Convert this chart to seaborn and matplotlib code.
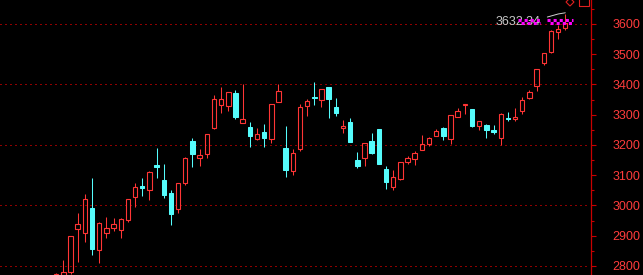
import numpy as np
import pandas as pd
import matplotlib
matplotlib.use("Agg")
import matplotlib.pyplot as plt
import seaborn as sns
from matplotlib.patches import Rectangle, Polygon

# ---- data ----
opens = [2750, 2768, 2781, 2923, 2908, 2992, 2854, 2910, 2927, 2920,
         2953, 3029, 3064, 3052, 3133, 3084, 3041, 2989, 3075, 3213,
         3158, 3171, 3257, 3331, 3328, 3372, 3274, 3259, 3221, 3243,
         3221, 3343, 3190, 3113, 3188, 3328, 3358, 3348, 3391, 3326,
         3257, 3276, 3150, 3156, 3213, 3253, 3121, 3062, 3088, 3145,
         3155, 3184, 3204, 3231, 3256, 3221, 3294, 3331, 3319, 3264,
         3266, 3250, 3224, 3289, 3286, 3313, 3355, 3395, 3470, 3507,
         3575, 3586]
highs = [2776, 2820, 2900, 2976, 3038, 3091, 2945, 2962, 2959, 2960,
         3022, 3074, 3091, 3113, 3191, 3137, 3050, 3075, 3161, 3223,
         3187, 3235, 3365, 3392, 3374, 3382, 3402, 3276, 3255, 3269,
         3336, 3401, 3263, 3187, 3336, 3351, 3407, 3386, 3391, 3355,
         3283, 3289, 3177, 3206, 3241, 3253, 3131, 3117, 3145, 3164,
         3179, 3233, 3227, 3252, 3259, 3300, 3322, 3336, 3320, 3279,
         3268, 3266, 3305, 3309, 3322, 3359, 3382, 3451, 3505, 3580,
         3597, 3632]
lows = [2740, 2760, 2773, 2814, 2880, 2837, 2811, 2894, 2916, 2894,
        2946, 2996, 3032, 3019, 3092, 3026, 2936, 2974, 3067, 3128,
        3130, 3158, 3253, 3305, 3313, 3287, 3272, 3194, 3218, 3194,
        3208, 3343, 3095, 3102, 3181, 3297, 3331, 3325, 3290, 3297,
        3239, 3211, 3125, 3132, 3171, 3138, 3055, 3051, 3084, 3137,
        3135, 3184, 3198, 3231, 3217, 3203, 3294, 3301, 3260, 3250,
        3224, 3236, 3200, 3279, 3279, 3303, 3352, 3380, 3463, 3503,
        3549, 3580]
closes = [2773, 2780, 2899, 2939, 3020, 2857, 2942, 2925, 2939, 2955,
          3021, 3061, 3059, 3110, 3128, 3036, 2973, 3074, 3156, 3171,
          3166, 3235, 3351, 3351, 3374, 3293, 3285, 3231, 3235, 3223,
          3336, 3378, 3118, 3173, 3325, 3344, 3354, 3384, 3353, 3307,
          3263, 3211, 3132, 3206, 3175, 3138, 3078, 3093, 3144, 3157,
          3174, 3202, 3223, 3245, 3231, 3298, 3311, 3335, 3263, 3279,
          3250, 3243, 3302, 3286, 3293, 3349, 3375, 3450, 3503, 3577,
          3583, 3604]
y_tick_values = [2800, 2900, 3000, 3100, 3200, 3300, 3400, 3500, 3600]
grid_levels = [2800, 3000, 3200, 3400, 3600]
high_label = "3632.34"

# ---- style ----
RED = "#ff3535"
CYAN = "#55fcfc"
AXIS_RED = "#c80000"
LABEL_RED = "#ff3c3c"
GRID_RED = "#900000"

sns.set_theme(style="dark")
plt.rcParams["font.family"] = ["Liberation Sans", "DejaVu Sans"]

fig = plt.figure(figsize=(6.43, 2.75), dpi=100, facecolor="black")
ax = fig.add_axes([0, 0, 591 / 643, 1])
ax.set_facecolor("black")

n = len(opens)
df = pd.DataFrame({"idx": np.arange(n), "open": opens, "high": highs,
                   "low": lows, "close": closes})
df["up"] = df["close"] >= df["open"]
df["body_lo"] = df[["open", "close"]].min(axis=1)
df["body_hi"] = df[["open", "close"]].max(axis=1)
df["body_h"] = np.maximum(df["body_hi"] - df["body_lo"], 1.5)

# wicks (outside the bodies)
for is_up, col in ((True, RED), (False, CYAN)):
    sub = df[df["up"] == is_up]
    ax.vlines(sub["idx"], sub["body_hi"], sub["high"], color=col, lw=0.75, zorder=2)
    ax.vlines(sub["idx"], sub["low"], sub["body_lo"], color=col, lw=0.75, zorder=2)

up = df[df["up"]].reset_index(drop=True)
dn = df[~df["up"]].reset_index(drop=True)

sns.barplot(data=up, x="idx", y="body_h", bottom=up["body_lo"].to_numpy(),
            native_scale=True, fill=False, color=RED, width=0.62,
            linewidth=0.8, errorbar=None, saturation=1, ax=ax, zorder=3)
sns.barplot(data=dn, x="idx", y="body_h", bottom=dn["body_lo"].to_numpy(),
            native_scale=True, color=CYAN, edgecolor=CYAN, width=0.62,
            linewidth=0.75, errorbar=None, saturation=1, ax=ax, zorder=3)

# dotted grid lines
for lv in grid_levels:
    ax.axhline(lv, xmin=0, xmax=588 / 591, color=GRID_RED, lw=0.75,
               ls=(0, (1, 3)), zorder=1, antialiased=False)

# limits
ax.set_xlim(-7.84, 74.59)
ax.set_ylim(2770.2, 3679.3)

# axis styling
for s in ("left", "top", "bottom"):
    ax.spines[s].set_visible(False)
ax.spines["right"].set_visible(True)
ax.spines["right"].set_color(AXIS_RED)
ax.spines["right"].set_linewidth(0.9)
ax.yaxis.tick_right()
ax.set_yticks(y_tick_values)
ax.set_yticklabels([str(v) for v in y_tick_values])
ax.set_yticks([v + 50 for v in y_tick_values], minor=True)
ax.tick_params(axis="y", which="major", length=3.3, width=0.8, color=AXIS_RED,
               labelcolor=LABEL_RED, labelsize=9, pad=12.2, right=True, left=False)
ax.tick_params(axis="y", which="minor", length=1.8, width=0.8, color=AXIS_RED,
               right=True, left=False)
ax.set_xticks([])
ax.set_xlabel("")
ax.set_ylabel("")
ax.grid(False)

# annotation of the last high
ax.text(67.5, 3608, high_label, ha="right", va="center", color="#c8c8c8",
        fontsize=9, zorder=5)
for x0, x1 in ((64.4, 67.5), (68.45, 72.1)):
    ax.plot([x0, x1], [3614, 3614], color="#ff00ff", lw=2.2,
            ls=(0, (1, 1)), zorder=6, solid_capstyle="butt")
    ax.plot([x0, x1], [3603, 3603], color="#ff00ff", lw=2.2,
            ls=(1, (1, 1)), zorder=6, solid_capstyle="butt")
ax.plot([68.5, 70.0, 71.0], [3623, 3633, 3637], color="#d0d0d0", lw=0.7, zorder=6)

# small toolbar icons at the top
def fx(px):
    return px / 591

def fy(py):
    return 1 - py / 275

ax.add_patch(Polygon([(fx(570), fy(-2)), (fx(574), fy(2)), (fx(570), fy(6)), (fx(566), fy(2))],
                     closed=True, fill=False, edgecolor="#e02020", lw=0.8,
                     transform=ax.transAxes, clip_on=True, zorder=6))
ax.add_patch(Rectangle((fx(579), fy(6)), 10 / 591, 8 / 275, fill=False,
                       edgecolor="#e02020", lw=0.8, transform=ax.transAxes,
                       clip_on=True, zorder=6))

fig.savefig("out.png", dpi=100, facecolor="black")
